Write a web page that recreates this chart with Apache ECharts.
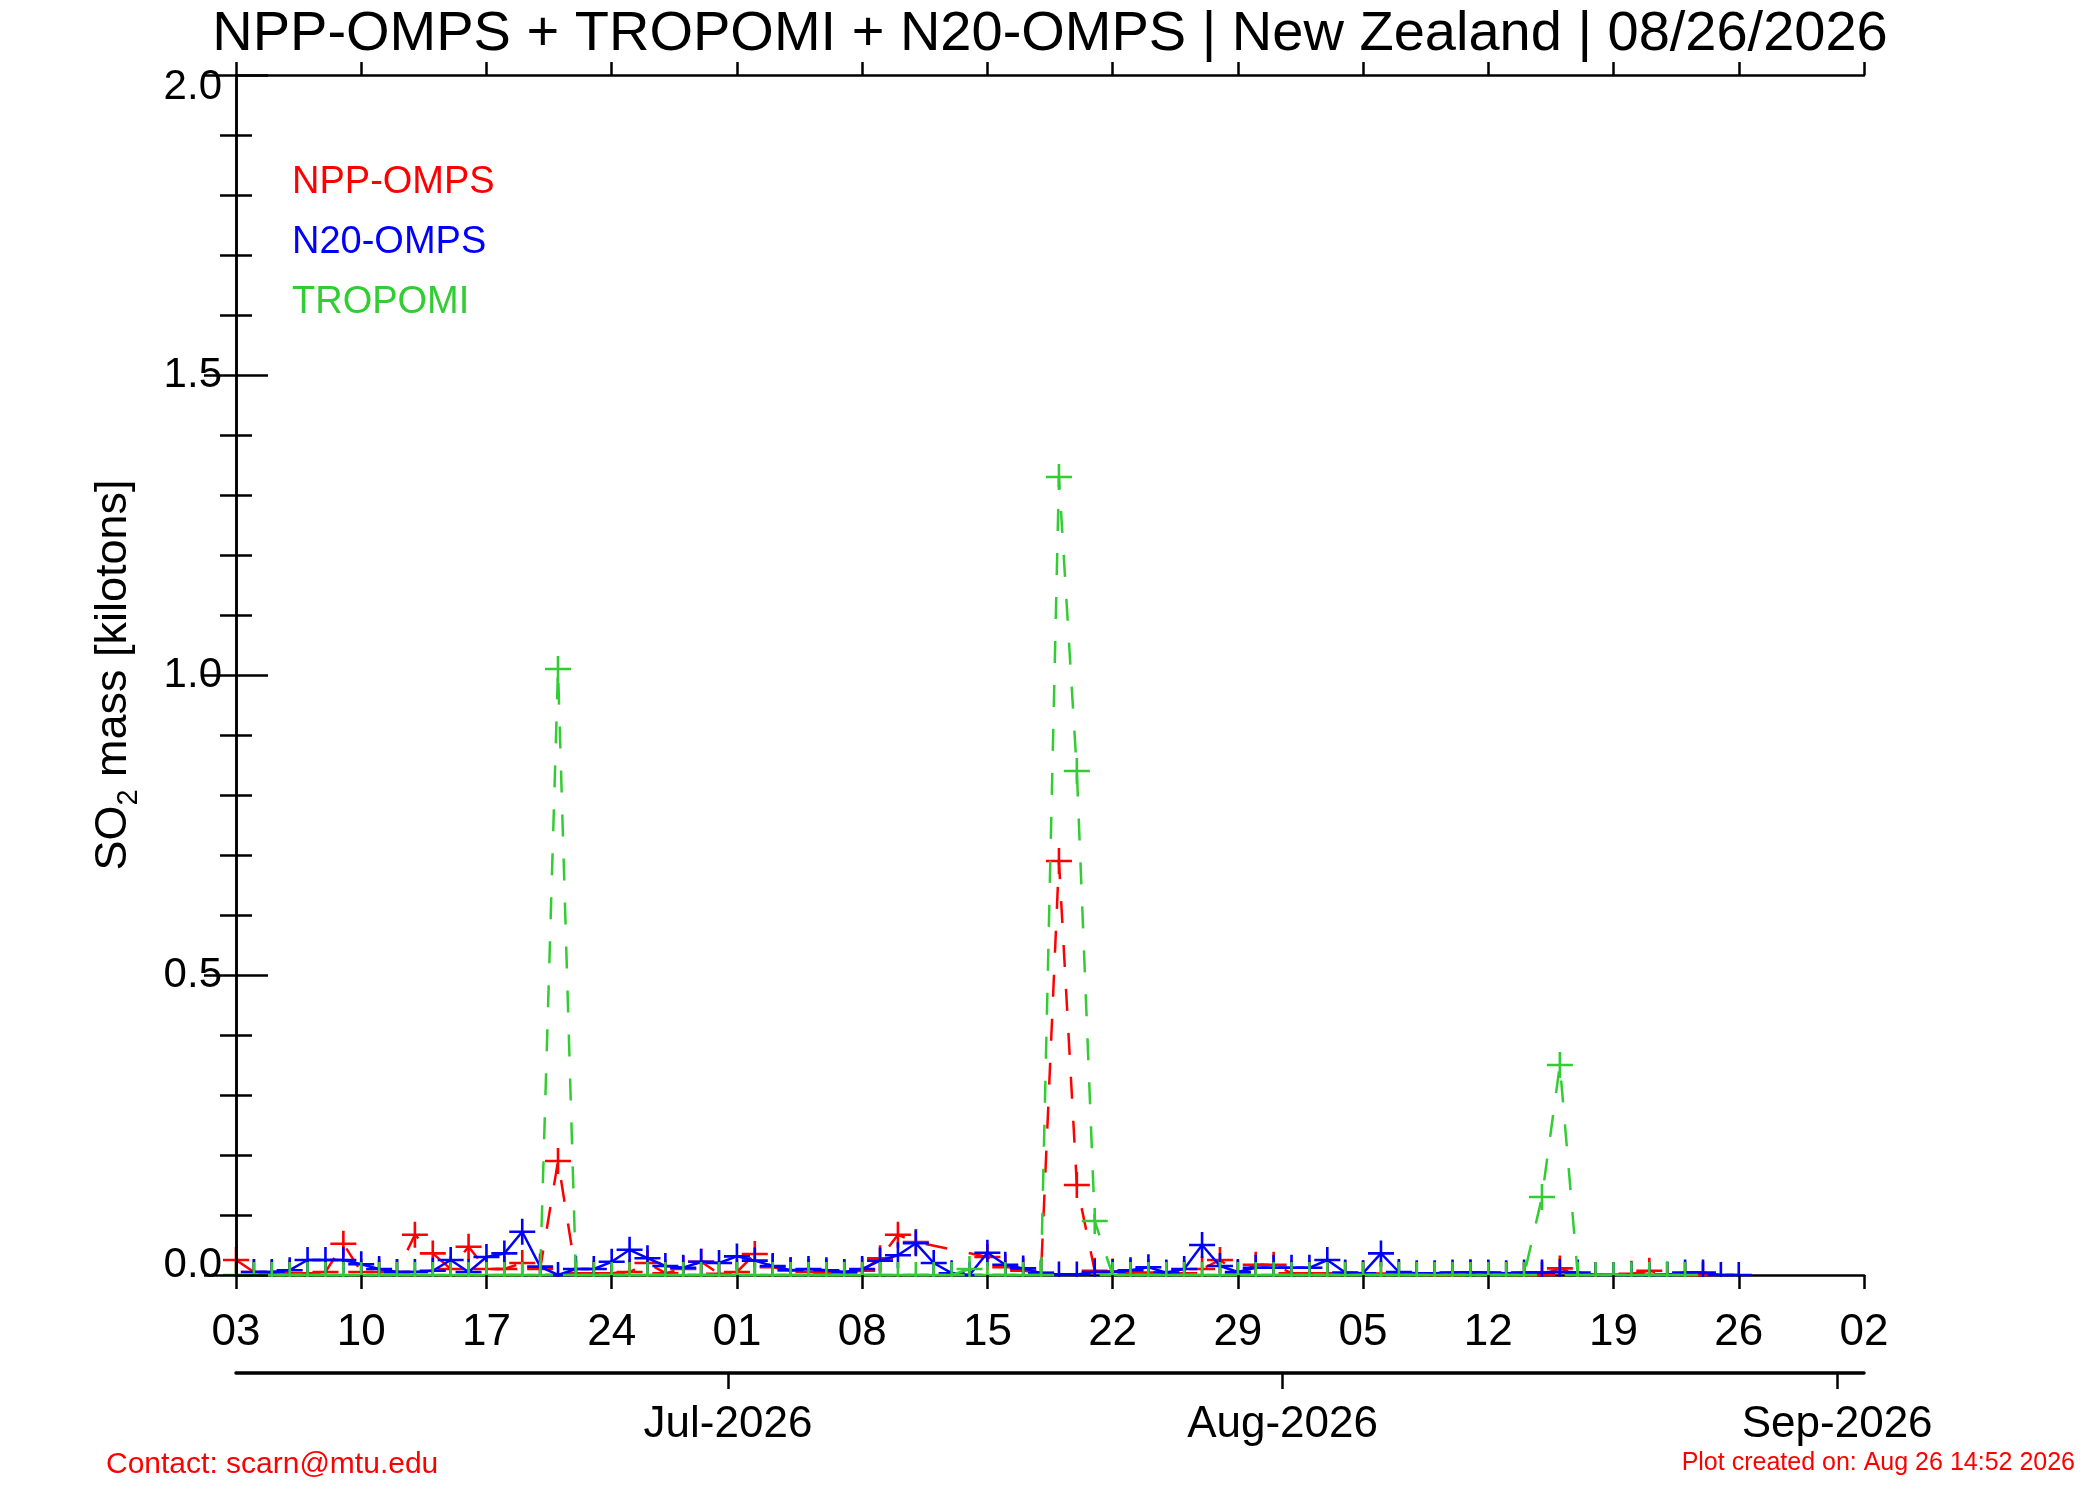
<!DOCTYPE html>
<html><head><meta charset="utf-8">
<script src="https://cdn.jsdelivr.net/npm/echarts@6/dist/echarts.min.js"></script>
<style>html,body{margin:0;padding:0;background:#fff}#c{width:2100px;height:1500px}</style>
</head><body><div id="c"></div>
<script>
// ---- data ----
const startDate = '2026-06-03';
const dayTickLabels = ['03','10','17','24','01','08','15','22','29','05','12','19','26','02'];
const monthLabels = ['Jul-2026','Aug-2026','Sep-2026'];
const monthStarts = ['2026-07-01','2026-08-01','2026-09-01'];
const yTickLabels = ['0.0','0.5','1.0','1.5','2.0'];
const seriesNames = ['NPP-OMPS','N20-OMPS','TROPOMI'];

// daily SO2 mass (kilotons), one value per day starting at startDate
const nppOmps = [
 0.025,0.005,0.003,0.003,0.003,0.005,0.052,0.005,0.005,0.005,
 0.067,0.036,0.010,0.047,0.010,0.010,0.020,0.010,0.190,0.003,
 0.003,0.003,0.005,0.020,0.003,0.010,0.022,0.002,0.005,0.035,
 0.013,0.008,0.005,0.004,0.004,0.007,0.028,0.067,0.055,null,
 null,null,0.030,0.013,0.007,0.004,0.690,0.150,0.007,0.006,
 0.004,0.004,0.003,0.003,0.010,0.025,0.003,0.017,0.017,0.003,
 0.003,0.003,0.003,0.003,0.002,0.002,0.001,0.000,0.000,0.004,
 0.002,0.001,0.000,0.000,0.011,0.001,0.000,0.000,0.002,0.007,
 0.001,0.000,0.000,null,null];
const n20Omps = [
 null,0.005,0.005,0.008,0.025,0.025,0.025,0.018,0.010,0.005,
 0.005,0.007,0.025,0.005,0.030,0.036,0.072,0.014,0.000,0.010,
 0.010,0.022,0.042,0.028,0.015,0.012,0.022,0.020,0.031,0.024,
 0.015,0.008,0.010,0.008,0.005,0.010,0.024,0.033,0.053,0.020,
 0.003,0.000,0.037,0.017,0.011,0.003,0.001,0.001,0.005,0.005,
 0.008,0.013,0.004,0.010,0.050,0.015,0.005,0.012,0.012,0.012,
 0.012,0.025,0.004,0.003,0.036,0.005,0.003,0.003,0.004,0.004,
 0.004,0.003,0.004,0.004,0.005,0.004,0.000,0.000,0.000,0.000,
 0.000,0.004,0.004,0.000,0.000];
const tropomi = [
 0,0,0,0,0,0,0,0,0,0,
 0,0,0,0,0,0,0,0,1.01,0,
 0,0,0,0,0,0,0,0,0,0,
 0,0,0,0,0,0,0,0,0,0,
 0,0.01,0,0,0,0,1.33,0.84,0.09,0,
 0,0,0,0,0,0,0,0,0,0,
 0,0,0,0,0,0,0,0,0,0,
 0,0,0,0.13,0.35,0,0,0,0,0,
 0,0,null,null,null];

// ---- chart ----
const FONT = '"Liberation Sans", Arial, Helvetica, sans-serif';
const DAY = 86400000;
const dayOf = d => Math.round((Date.parse(d) - Date.parse(startDate)) / DAY);
const xMax = (dayTickLabels.length - 1) * 7;
// month marks sit half a day before the month's first day tick in the source plot
const monthDays = monthStarts.map(d => dayOf(d) - 0.5);
const toPts = arr => arr.map((v, i) => [i, v]);
const PLUS = 'path://M-1,-0.1L1,-0.1L1,0.1L-1,0.1ZM-0.1,-1L0.1,-1L0.1,1L-0.1,1Z';
const colors = ['#ff0000', '#0000ff', '#32cd32'];
const GRID = {left: 236, right: 236, top: 75, bottom: 225};
const AX = {color: '#000', width: 2.5};

const chart = echarts.init(document.getElementById('c'), null, {width: 2100, height: 1500, renderer: 'canvas'});

function lineSeries(idx, arr, dashed) {
  return {
    name: seriesNames[idx], type: 'line', data: toPts(arr),
    connectNulls: true, symbol: PLUS, symbolSize: 26, showSymbol: true,
    z: 2 + idx * 0.1,
    lineStyle: {color: colors[idx], width: 2.5, type: dashed ? [22, 22] : 'solid'},
    itemStyle: {color: colors[idx], borderWidth: 0},
    emphasis: {disabled: true}, animation: false
  };
}

const baseX = {type: 'value', min: 0, max: xMax, interval: 7, splitLine: {show: false}};

chart.setOption({
  animation: false,
  backgroundColor: '#fff',
  textStyle: {fontFamily: FONT},
  title: {
    text: 'NPP-OMPS + TROPOMI + N20-OMPS | New Zealand | 08/26/2026',
    left: 'center', top: 2,
    textStyle: {fontFamily: FONT, fontSize: 56, fontWeight: 'normal', color: '#000'}
  },
  legend: {
    orient: 'vertical', left: 287, top: 158, itemGap: 20, itemWidth: 0, itemHeight: 10,
    icon: 'none', selectedMode: false,
    data: seriesNames.map((n, i) => ({name: n, icon: 'none', textStyle: {color: colors[i]}})),
    textStyle: {fontFamily: FONT, fontSize: 38, lineHeight: 40, padding: [0, 0, 0, -5]}
  },
  grid: GRID,
  xAxis: [
    Object.assign({}, baseX, {position: 'bottom', z: 0,
      axisLine: {show: true, lineStyle: AX},
      axisTick: {show: false}, axisLabel: {show: false}}),
    Object.assign({}, baseX, {position: 'bottom', z: 10,
      axisLine: {show: false},
      axisTick: {show: true, inside: false, length: 14, lineStyle: AX},
      axisLabel: {show: true, margin: 36, fontFamily: FONT, fontSize: 44, color: '#000',
        formatter: v => dayTickLabels[Math.round(v / 7)] || ''}}),
    Object.assign({}, baseX, {position: 'bottom', offset: 98, z: 10,
      axisLine: {show: true, lineStyle: {color: '#000', width: 3.5}},
      axisTick: {show: true, inside: false, length: 16, customValues: monthDays, lineStyle: AX},
      axisLabel: {show: true, margin: 30, fontFamily: FONT, fontSize: 44, color: '#000',
        customValues: monthDays,
        formatter: v => {
          const i = monthDays.findIndex(m => Math.abs(m - v) < 0.01);
          return i >= 0 ? monthLabels[i] : '';
        }}}),
    Object.assign({}, baseX, {position: 'top', z: 10,
      axisLine: {show: true, lineStyle: AX},
      axisTick: {show: true, inside: false, length: 13, lineStyle: AX},
      axisLabel: {show: false}})
  ],
  yAxis: [
    {type: 'value', position: 'left', min: 0, max: 2, interval: 0.5, z: 10,
     splitLine: {show: false},
     axisLine: {show: true, lineStyle: AX},
     axisTick: {show: true, inside: true, length: 32, lineStyle: AX},
     minorTick: {show: true, splitNumber: 5, length: 16, lineStyle: AX},
     axisLabel: {margin: 14, fontFamily: FONT, fontSize: 42, color: '#000',
       formatter: v => {
         const s = yTickLabels[Math.round(v / 0.5)];
         if (v === 0) return '{lo|' + s + '}';
         if (v === 2) return '{hi|' + s + '}';
         return s;
       },
       rich: {
         lo: {fontFamily: FONT, fontSize: 42, color: '#000', padding: [0, 0, 20, 0]},
         hi: {fontFamily: FONT, fontSize: 42, color: '#000', padding: [24, 0, 0, 0]}
       }},
     name: '{a|SO}{s|2}{a| mass [kilotons]}', nameLocation: 'middle', nameGap: 93, nameRotate: 90,
     nameTextStyle: {
       rich: {
         a: {fontFamily: FONT, fontSize: 45, color: '#000', lineHeight: 58},
         s: {fontFamily: FONT, fontSize: 29, color: '#000', lineHeight: 27, verticalAlign: 'bottom'}
       }
     }},
    {type: 'value', position: 'right', min: 0, max: 2, interval: 0.5, z: 10,
     splitLine: {show: false},
     axisLine: {show: true, lineStyle: AX},
     axisTick: {show: true, inside: true, length: 32, lineStyle: AX},
     minorTick: {show: true, splitNumber: 5, length: 16, lineStyle: AX},
     axisLabel: {show: false}}
  ],
  graphic: [
    {type: 'rect', z: 5, silent: true,
     shape: {x: 0, y: 1277, width: 2100, height: 20}, style: {fill: '#fff'}},
    {type: 'text', left: 106, top: 1450, z: 20,
     style: {text: 'Contact: scarn@mtu.edu', font: '30px ' + FONT, fill: '#ff0000'}},
    {type: 'text', right: 25, top: 1451, z: 20,
     style: {text: 'Plot created on: Aug 26 14:52 2026', font: '25px ' + FONT, fill: '#ff0000'}}
  ],
  series: [
    lineSeries(0, nppOmps, true),
    lineSeries(1, n20Omps, false),
    lineSeries(2, tropomi, true)
  ]
});
</script>
</body></html>
